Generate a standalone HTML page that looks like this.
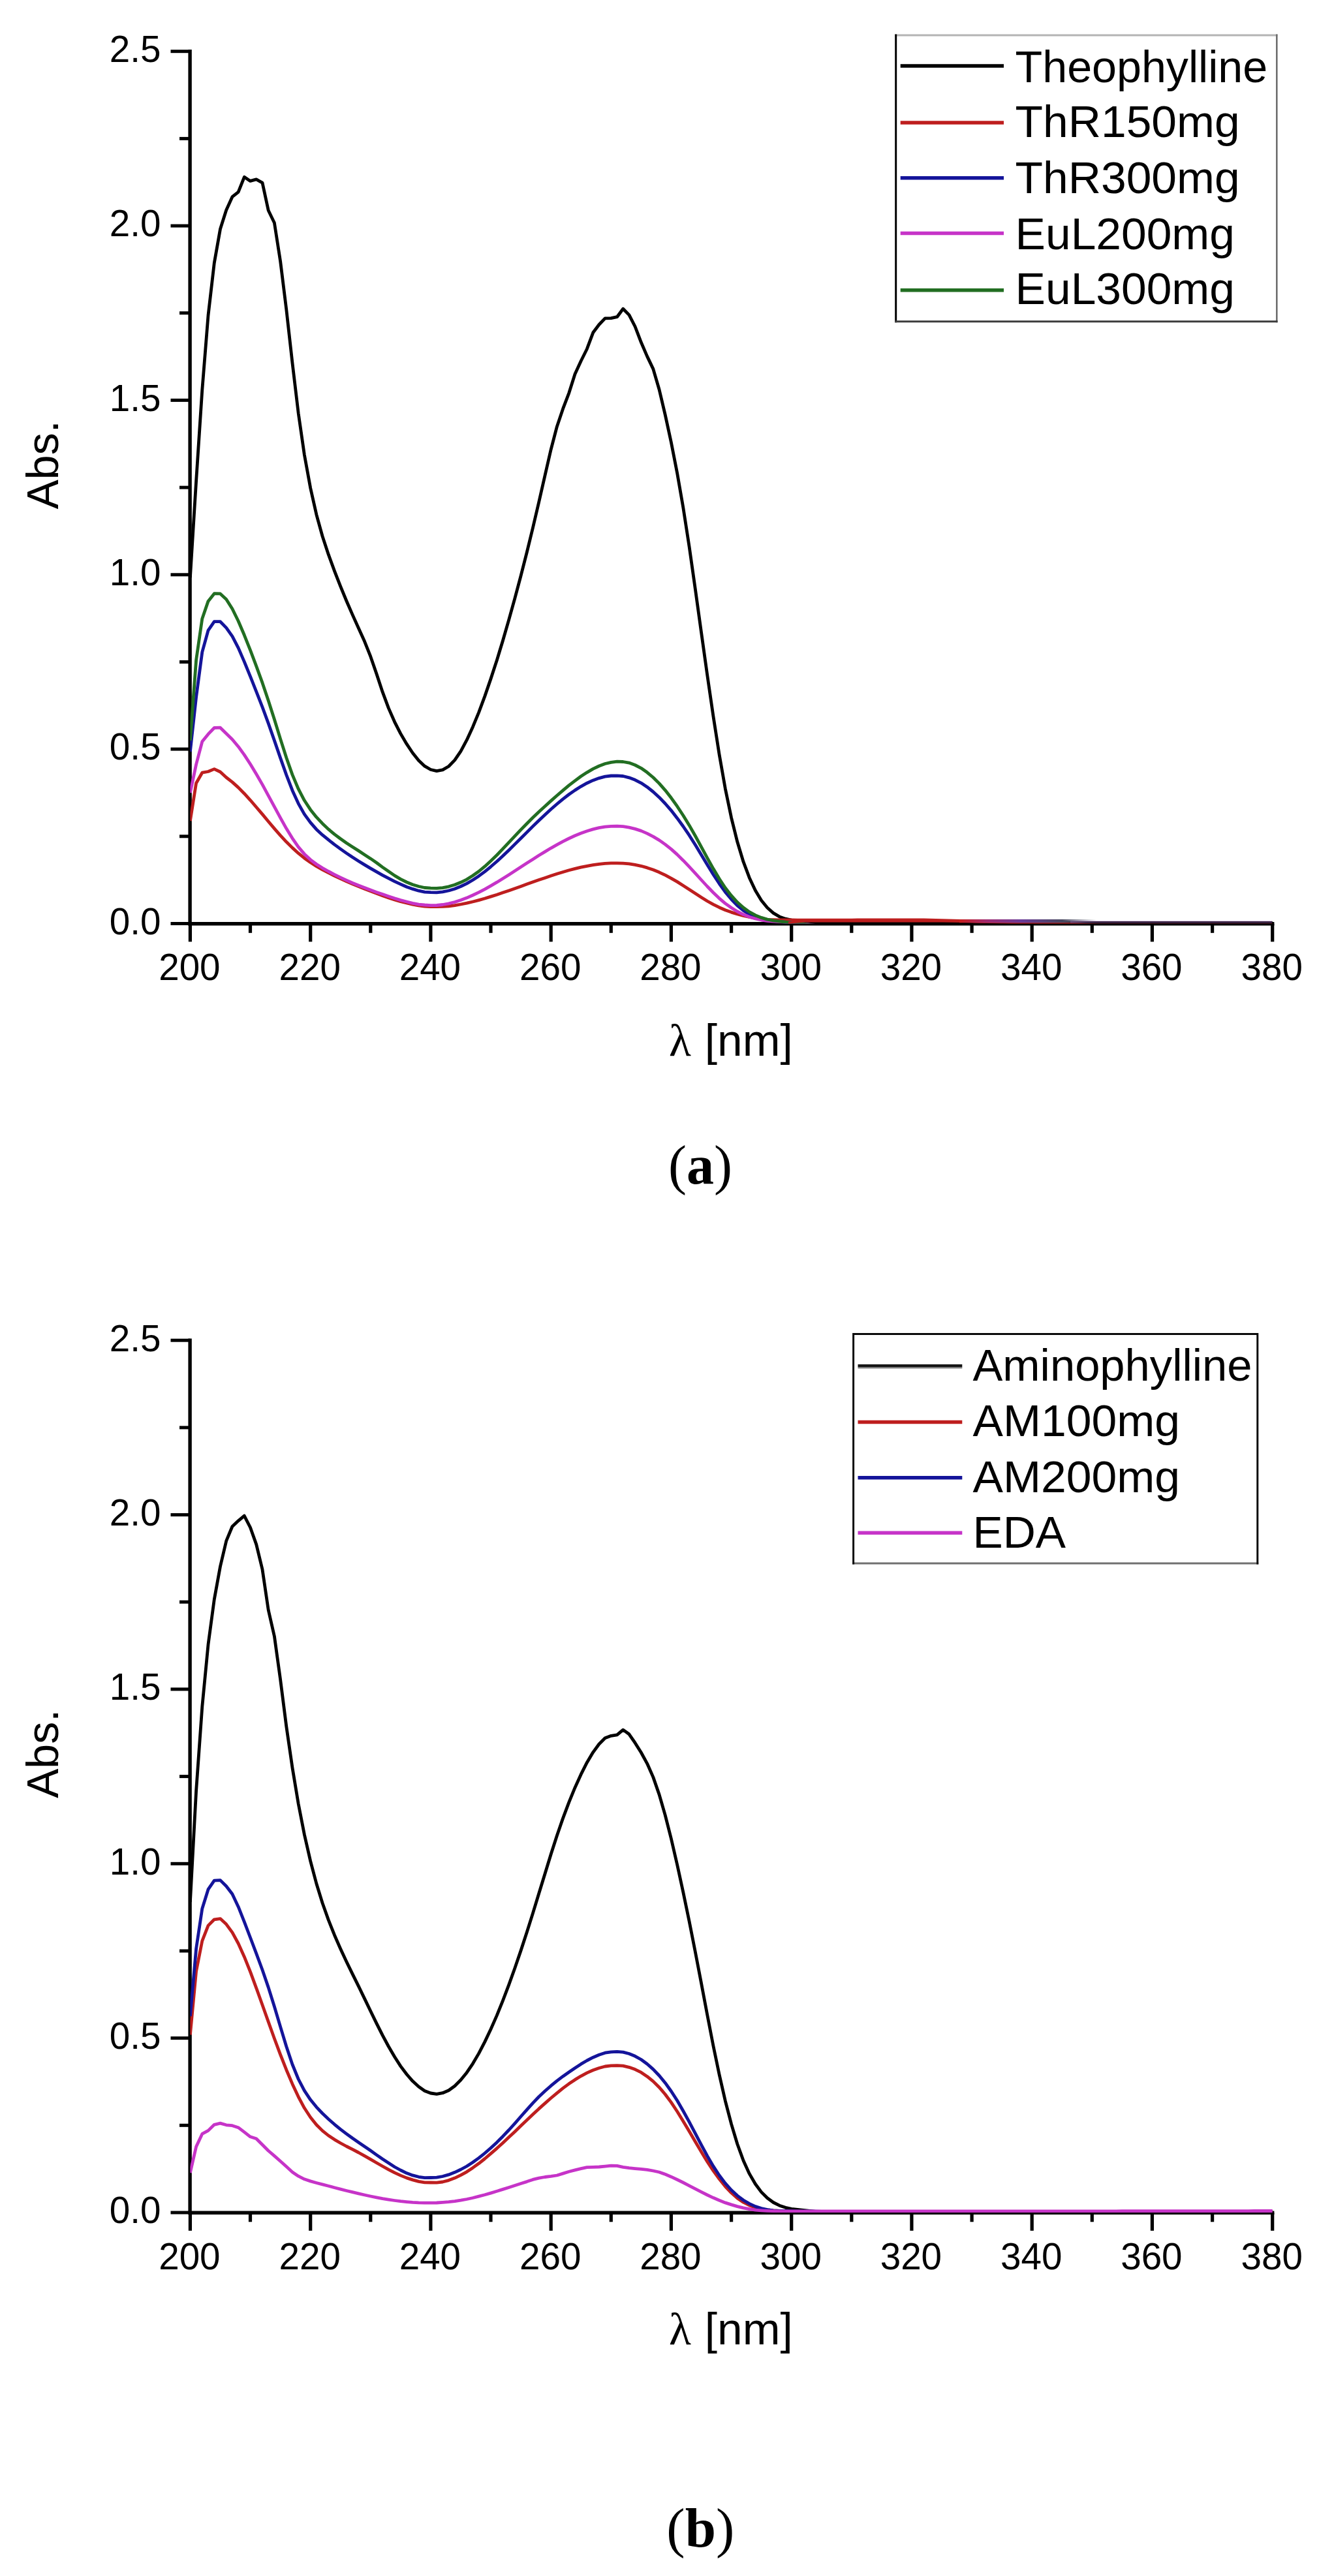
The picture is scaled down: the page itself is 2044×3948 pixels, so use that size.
<!DOCTYPE html>
<html lang="en">
<head>
<meta charset="utf-8">
<title>UV absorption spectra</title>
<style>
html,body{margin:0;padding:0;background:#fff;}
body{width:2044px;height:3948px;overflow:hidden;}
svg{display:block;}
text{white-space:pre;}
</style>
</head>
<body>

<svg width="2044" height="3948" viewBox="0 0 2044 3948">
<rect x="0" y="0" width="2044" height="3948" fill="#fff"/>
<defs>
<clipPath id="clipA"><rect x="291.4" y="60" width="1661.3" height="1355.5"/></clipPath>
<clipPath id="clipB"><rect x="291.4" y="2035.5" width="1661.3" height="1355.5"/></clipPath>
<linearGradient id="hazeA" gradientUnits="userSpaceOnUse" x1="1470" y1="0" x2="1680" y2="0"><stop offset="0" stop-color="#c81e1e"/><stop offset="0.2" stop-color="#a02a70"/><stop offset="0.45" stop-color="#6a3a98"/><stop offset="0.75" stop-color="#46465e"/><stop offset="1" stop-color="#46465e" stop-opacity="0"/></linearGradient>
</defs>
<!-- chart a: axes -->
<g stroke="#000" stroke-width="5.4" stroke-linecap="butt" fill="none">
<path d="M291.1 76 V1418.5"/>
<path d="M288.4 1415.8 H1952.4"/>
<path d="M261.5 1415.5 H291.4" stroke-width="5"/>
<path d="M275 1281.8 H291.4" stroke-width="5"/>
<path d="M261.5 1148.1 H291.4" stroke-width="5"/>
<path d="M275 1014.5 H291.4" stroke-width="5"/>
<path d="M261.5 880.8 H291.4" stroke-width="5"/>
<path d="M275 747.1 H291.4" stroke-width="5"/>
<path d="M261.5 613.4 H291.4" stroke-width="5"/>
<path d="M275 479.7 H291.4" stroke-width="5"/>
<path d="M261.5 346.1 H291.4" stroke-width="5"/>
<path d="M275 212.4 H291.4" stroke-width="5"/>
<path d="M261.5 78.7 H291.4" stroke-width="5"/>
<path d="M291.4 1415.5 V1443.3" stroke-width="5.2"/>
<path d="M383.5 1415.5 V1429.8" stroke-width="5.2"/>
<path d="M475.7 1415.5 V1443.3" stroke-width="5.2"/>
<path d="M567.8 1415.5 V1429.8" stroke-width="5.2"/>
<path d="M659.9 1415.5 V1443.3" stroke-width="5.2"/>
<path d="M752 1415.5 V1429.8" stroke-width="5.2"/>
<path d="M844.2 1415.5 V1443.3" stroke-width="5.2"/>
<path d="M936.3 1415.5 V1429.8" stroke-width="5.2"/>
<path d="M1028.4 1415.5 V1443.3" stroke-width="5.2"/>
<path d="M1120.6 1415.5 V1429.8" stroke-width="5.2"/>
<path d="M1212.7 1415.5 V1443.3" stroke-width="5.2"/>
<path d="M1304.8 1415.5 V1429.8" stroke-width="5.2"/>
<path d="M1396.9 1415.5 V1443.3" stroke-width="5.2"/>
<path d="M1489.1 1415.5 V1429.8" stroke-width="5.2"/>
<path d="M1581.2 1415.5 V1443.3" stroke-width="5.2"/>
<path d="M1673.3 1415.5 V1429.8" stroke-width="5.2"/>
<path d="M1765.4 1415.5 V1443.3" stroke-width="5.2"/>
<path d="M1857.6 1415.5 V1429.8" stroke-width="5.2"/>
<path d="M1949.7 1415.5 V1443.3" stroke-width="5.2"/>
</g>
<g font-family="'Liberation Sans', Arial, Helvetica, sans-serif" font-size="56.6" fill="#000">
<text x="246.5" y="1431.8" text-anchor="end">0.0</text>
<text x="246.5" y="1164.4" text-anchor="end">0.5</text>
<text x="246.5" y="897.1" text-anchor="end">1.0</text>
<text x="246.5" y="629.7" text-anchor="end">1.5</text>
<text x="246.5" y="362.4" text-anchor="end">2.0</text>
<text x="246.5" y="95" text-anchor="end">2.5</text>
<text x="290.4" y="1502" text-anchor="middle">200</text>
<text x="474.7" y="1502" text-anchor="middle">220</text>
<text x="658.9" y="1502" text-anchor="middle">240</text>
<text x="843.2" y="1502" text-anchor="middle">260</text>
<text x="1027.4" y="1502" text-anchor="middle">280</text>
<text x="1211.7" y="1502" text-anchor="middle">300</text>
<text x="1395.9" y="1502" text-anchor="middle">320</text>
<text x="1580.2" y="1502" text-anchor="middle">340</text>
<text x="1764.4" y="1502" text-anchor="middle">360</text>
<text x="1948.7" y="1502" text-anchor="middle">380</text>
</g>
<text transform="translate(88.8 712.5) rotate(-90)" font-family="'Liberation Sans', Arial, Helvetica, sans-serif" font-size="68" text-anchor="middle" fill="#000">Abs.</text>
<text x="1079.8" y="1617.8" font-family="'Liberation Sans', Arial, Helvetica, sans-serif" font-size="68" fill="#000" textLength="135" lengthAdjust="spacingAndGlyphs">[nm]</text>
<text x="1025" y="1617.8" font-family="'Liberation Serif', 'Times New Roman', serif" font-size="70" fill="#000">λ</text>
<!-- chart a: curves -->
<g id="curves-a" clip-path="url(#clipA)">
<path d="M291.4 885L300.6 737.3 309.8 597.5 319 483.4 328.3 403 337.5 351 346.7 322.1 355.9 301.7 365.1 294.4 374.3 271.3 383.5 277.4 392.7 274.9 402 280.1 411.2 322.5 420.4 341.5 429.6 400.4 438.8 474.5 448 556.6 457.2 633.5 466.4 697.1 475.7 748 484.9 788.8 494.1 822 503.3 849.9 512.5 875.1 521.7 898.7 530.9 921 540.1 942.1 549.4 962.7 558.6 983.1 567.8 1006.2 577 1032.9 586.2 1060.7 595.4 1085.4 604.6 1106.3 613.8 1124.4 623.1 1140.2 632.3 1154 641.5 1165.5 650.7 1174.2 659.9 1179.5 669.1 1181.6 678.3 1179.8 687.5 1174.5 696.8 1164.9 706 1151.3 715.2 1134.2 724.4 1114.2 733.6 1091.8 742.8 1067.1 752 1040.4 761.3 1011.9 770.5 981.7 779.7 949.9 788.9 916.8 798.1 882.3 807.3 846.3 816.5 808.7 825.7 769.5 835 728.7 844.2 688.8 853.4 653.7 862.6 626.4 871.8 602.3 881 573.2 890.2 553.2 899.4 534.7 908.7 509.8 917.9 497.5 927.1 487.9 936.3 487.7 945.5 485.7 954.7 473.3 963.9 482.6 973.1 500.5 982.4 524.8 991.6 546.1 1000.8 565.4 1010 596.7 1019.2 635.6 1028.4 678.1 1037.6 725 1046.8 777.9 1056.1 837.9 1065.3 902.7 1074.5 968.9 1083.7 1034.5 1092.9 1097.6 1102.1 1156.3 1111.3 1208.7 1120.6 1253.3 1129.8 1290.3 1139 1320.7 1148.2 1345.2 1157.4 1364.8 1166.6 1379.9 1175.8 1391.2 1185 1399.4 1194.3 1404.9 1203.5 1408.2 1212.7 1410.1 1221.9 1411.1 1231.1 1411.9 1240.3 1412.7 1249.5 1413.3 1258.7 1413.6 1268 1413.7 1277.2 1413.7 1286.4 1413.8 1295.6 1413.8 1304.8 1413.8 1314 1413.9 1323.2 1413.9 1332.4 1413.9 1341.7 1413.9 1350.9 1413.9 1360.1 1413.9 1369.3 1414 1378.5 1414 1387.7 1414 1396.9 1414 1406.1 1414 1415.4 1414 1424.6 1414 1433.8 1414 1443 1414.1 1452.2 1414.1 1461.4 1414.1 1470.6 1414.1 1479.8 1414.1 1489.1 1414.1 1498.3 1414.1 1507.5 1414.1 1516.7 1414.2 1525.9 1414.2 1535.1 1414.2 1544.3 1414.2 1553.6 1414.2 1562.8 1414.2 1572 1414.2 1581.2 1414.2 1590.4 1414.3 1599.6 1414.3 1608.8 1414.3 1618 1414.3 1627.3 1414.3 1636.5 1414.3 1645.7 1414.3 1654.9 1414.3 1664.1 1414.3 1673.3 1414.3 1682.5 1414.4 1691.7 1414.4 1701 1414.4 1710.2 1414.4 1719.4 1414.4 1728.6 1414.4 1737.8 1414.4 1747 1414.4 1756.2 1414.4 1765.4 1414.4 1774.7 1414.4 1783.9 1414.4 1793.1 1414.4 1802.3 1414.5 1811.5 1414.5 1820.7 1414.5 1829.9 1414.5 1839.1 1414.5 1848.4 1414.5 1857.6 1414.5 1866.8 1414.5 1876 1414.5 1885.2 1414.5 1894.4 1414.5 1903.6 1414.5 1912.8 1414.5 1922.1 1414.5 1931.3 1414.5 1940.5 1414.5 1949.7 1414.5" fill="none" stroke="#000000" stroke-width="4.8" stroke-linejoin="round" stroke-linecap="butt"/>
<path d="M291.4 1258L300.6 1200.2 309.8 1184.2 319 1182.5 328.3 1178.6 337.5 1183 346.7 1191.5 355.9 1198.6 365.1 1206.9 374.3 1216.2 383.5 1226.3 392.7 1237 402 1247.9 411.2 1259 420.4 1269.9 429.6 1280.4 438.8 1290.3 448 1299.4 457.2 1307.7 466.4 1315.2 475.7 1321.8 484.9 1327.6 494.1 1332.8 503.3 1337.7 512.5 1342.3 521.7 1346.6 530.9 1350.8 540.1 1354.7 549.4 1358.5 558.6 1362.2 567.8 1365.8 577 1369.3 586.2 1372.7 595.4 1375.9 604.6 1378.9 613.8 1381.7 623.1 1384 632.3 1386.1 641.5 1387.8 650.7 1389 659.9 1389.7 669.1 1389.6 678.3 1389.4 687.5 1388.9 696.8 1387.7 706 1386 715.2 1384.2 724.4 1382 733.6 1379.6 742.8 1377 752 1374.1 761.3 1371.2 770.5 1368.1 779.7 1364.9 788.9 1361.7 798.1 1358.4 807.3 1355.1 816.5 1351.8 825.7 1348.6 835 1345.4 844.2 1342.3 853.4 1339.3 862.6 1336.5 871.8 1333.8 881 1331.4 890.2 1329.2 899.4 1327.3 908.7 1325.6 917.9 1324.3 927.1 1323.3 936.3 1322.9 945.5 1322.8 954.7 1323.1 963.9 1323.9 973.1 1325.4 982.4 1327.3 991.6 1329.9 1000.8 1333.1 1010 1336.8 1019.2 1341.2 1028.4 1346.1 1037.6 1351.4 1046.8 1357.2 1056.1 1363.3 1065.3 1369.3 1074.5 1375.3 1083.7 1381 1092.9 1386.1 1102.1 1390.7 1111.3 1394.7 1120.6 1398.1 1129.8 1401 1139 1403.5 1148.2 1405.5 1157.4 1407.1 1166.6 1408.4 1175.8 1409.5 1185 1409.7 1194.3 1409.9 1203.5 1410 1212.7 1410 1221.9 1410.1 1231.1 1410.1 1240.3 1410.1 1249.5 1410.1 1258.7 1410.1 1268 1410.1 1277.2 1410.1 1286.4 1410.1 1295.6 1410.1 1304.8 1410.1 1314 1410 1323.2 1410 1332.4 1410 1341.7 1410 1350.9 1409.9 1360.1 1409.9 1369.3 1409.9 1378.5 1409.9 1387.7 1409.9 1396.9 1409.9 1406.1 1409.9 1415.4 1410 1424.6 1410.1 1433.8 1410.3 1443 1410.6 1452.2 1410.8 1461.4 1411.1 1470.6 1411.3 1479.8 1411.5 1489.1 1411.8 1498.3 1412 1507.5 1412.3 1516.7 1412.6 1525.9 1412.8 1535.1 1413.1 1544.3 1413.4 1553.6 1413.7 1562.8 1414 1572 1414.2 1581.2 1414.5 1590.4 1414.8 1599.6 1415.1 1608.8 1415.4 1618 1415.7 1627.3 1416 1636.5 1416.4 1645.7 1416.7 1654.9 1417 1664.1 1417.3 1673.3 1417.6 1682.5 1417.8 1691.7 1417.9 1701 1417.9 1710.2 1417.9 1719.4 1417.9 1728.6 1418 1737.8 1418 1747 1418 1756.2 1418 1765.4 1418 1774.7 1418 1783.9 1418 1793.1 1418 1802.3 1418 1811.5 1418 1820.7 1418 1829.9 1418 1839.1 1418 1848.4 1418 1857.6 1418 1866.8 1418 1876 1418 1885.2 1418 1894.4 1418 1903.6 1418 1912.8 1418 1922.1 1418 1931.3 1418 1940.5 1418 1949.7 1418" fill="none" stroke="#be1e1e" stroke-width="4.8" stroke-linejoin="round" stroke-linecap="butt"/>
<path d="M291.4 1152L300.6 1068.4 309.8 999.4 319 966.1 328.3 952.7 337.5 952.7 346.7 962.1 355.9 975.1 365.1 992.9 374.3 1014.1 383.5 1036.7 392.7 1059.8 402 1083.7 411.2 1108.7 420.4 1134.9 429.6 1161.6 438.8 1187.6 448 1211.4 457.2 1231.6 466.4 1247.9 475.7 1260.7 484.9 1271.2 494.1 1279.7 503.3 1287.2 512.5 1294.4 521.7 1301.1 530.9 1307.6 540.1 1313.8 549.4 1319.7 558.6 1325.4 567.8 1330.9 577 1336.2 586.2 1341.3 595.4 1346.2 604.6 1350.9 613.8 1355.2 623.1 1359.3 632.3 1362.4 641.5 1365.2 650.7 1367.1 659.9 1367.6 669.1 1367.8 678.3 1366.9 687.5 1365 696.8 1362.2 706 1358.5 715.2 1354.1 724.4 1348.7 733.6 1342.7 742.8 1335.8 752 1328.3 761.3 1320.3 770.5 1311.8 779.7 1302.9 788.9 1293.9 798.1 1284.7 807.3 1275.6 816.5 1266.4 825.7 1257.5 835 1248.8 844.2 1240.3 853.4 1232.3 862.6 1224.6 871.8 1217.5 881 1211.1 890.2 1205.3 899.4 1200.2 908.7 1195.9 917.9 1192.6 927.1 1190.1 936.3 1189 945.5 1188.8 954.7 1189.5 963.9 1191.8 973.1 1195.3 982.4 1200.1 991.6 1206.2 1000.8 1213.5 1010 1221.9 1019.2 1231.5 1028.4 1242.1 1037.6 1253.9 1046.8 1266.5 1056.1 1280.2 1065.3 1294.8 1074.5 1310 1083.7 1325.3 1092.9 1340.2 1102.1 1354.3 1111.3 1367.1 1120.6 1378.3 1129.8 1387.9 1139 1395.4 1148.2 1401.2 1157.4 1405.3 1166.6 1408.1 1175.8 1410 1185 1411.3 1194.3 1412.3 1203.5 1413.3 1212.7 1414.3 1221.9 1415.6 1231.1 1417.1 1240.3 1418.4 1249.5 1419 1258.7 1419 1268 1419 1277.2 1419 1286.4 1419 1295.6 1419 1304.8 1419 1314 1419 1323.2 1419 1332.4 1419 1341.7 1419 1350.9 1419 1360.1 1419 1369.3 1419 1378.5 1419 1387.7 1419 1396.9 1419 1406.1 1419 1415.4 1419 1424.6 1419 1433.8 1419 1443 1419 1452.2 1419 1461.4 1419 1470.6 1419 1479.8 1419 1489.1 1419 1498.3 1419 1507.5 1419 1516.7 1419 1525.9 1419 1535.1 1419 1544.3 1419 1553.6 1419 1562.8 1419 1572 1419 1581.2 1419 1590.4 1419 1599.6 1419 1608.8 1419 1618 1419 1627.3 1419 1636.5 1419 1645.7 1419 1654.9 1419 1664.1 1419 1673.3 1419 1682.5 1419 1691.7 1419 1701 1419 1710.2 1419 1719.4 1419 1728.6 1419 1737.8 1419 1747 1419 1756.2 1419 1765.4 1419 1774.7 1419 1783.9 1419 1793.1 1419 1802.3 1419 1811.5 1419 1820.7 1419 1829.9 1419 1839.1 1419 1848.4 1419 1857.6 1419 1866.8 1419 1876 1419 1885.2 1419 1894.4 1419 1903.6 1419 1912.8 1419 1922.1 1419 1931.3 1419 1940.5 1419 1949.7 1419" fill="none" stroke="#14149a" stroke-width="4.8" stroke-linejoin="round" stroke-linecap="butt"/>
<path d="M291.4 1215L300.6 1171.5 309.8 1136.6 319 1125.2 328.3 1115.5 337.5 1115.2 346.7 1124.3 355.9 1133.2 365.1 1144.2 374.3 1156.9 383.5 1171 392.7 1186.3 402 1202.4 411.2 1219.3 420.4 1236.4 429.6 1253.4 438.8 1269.8 448 1284.8 457.2 1298.1 466.4 1308.9 475.7 1317.6 484.9 1324.5 494.1 1330.3 503.3 1335.5 512.5 1340.3 521.7 1344.8 530.9 1349.1 540.1 1353.2 549.4 1357 558.6 1360.6 567.8 1364.1 577 1367.4 586.2 1370.6 595.4 1373.7 604.6 1376.8 613.8 1379.6 623.1 1382 632.3 1384.3 641.5 1386.1 650.7 1387 659.9 1387.6 669.1 1387.5 678.3 1386.5 687.5 1384.9 696.8 1382.5 706 1379.5 715.2 1376.1 724.4 1372 733.6 1367.6 742.8 1362.8 752 1357.6 761.3 1352.2 770.5 1346.5 779.7 1340.7 788.9 1334.8 798.1 1328.8 807.3 1322.8 816.5 1316.9 825.7 1311 835 1305.4 844.2 1299.8 853.4 1294.6 862.6 1289.6 871.8 1285 881 1280.8 890.2 1277 899.4 1273.7 908.7 1270.9 917.9 1268.7 927.1 1267.1 936.3 1266.4 945.5 1266.2 954.7 1266.7 963.9 1268.2 973.1 1270.4 982.4 1273.4 991.6 1277.4 1000.8 1282.1 1010 1287.6 1019.2 1294.1 1028.4 1301.4 1037.6 1309.6 1046.8 1318.7 1056.1 1328.4 1065.3 1338.4 1074.5 1348.5 1083.7 1358.5 1092.9 1368 1102.1 1376.8 1111.3 1384.6 1120.6 1391.3 1129.8 1397 1139 1401.6 1148.2 1405.3 1157.4 1408 1166.6 1410 1175.8 1411.3 1185 1412.2 1194.3 1412.8 1203.5 1413.5 1212.7 1414.2 1221.9 1415 1231.1 1415.9 1240.3 1417.2 1249.5 1418.4 1258.7 1419 1268 1419.1 1277.2 1419.1 1286.4 1419.1 1295.6 1419.1 1304.8 1419.1 1314 1419.1 1323.2 1419.1 1332.4 1419.1 1341.7 1419.1 1350.9 1419.1 1360.1 1419.1 1369.3 1419.1 1378.5 1419.1 1387.7 1419.1 1396.9 1419.1 1406.1 1419.1 1415.4 1419.1 1424.6 1419.1 1433.8 1419.1 1443 1419.1 1452.2 1419.1 1461.4 1419.1 1470.6 1419.1 1479.8 1419.1 1489.1 1419.1 1498.3 1419.1 1507.5 1419.1 1516.7 1419.1 1525.9 1419 1535.1 1419 1544.3 1419 1553.6 1419 1562.8 1419 1572 1419 1581.2 1419 1590.4 1419 1599.6 1419 1608.8 1419 1618 1419 1627.3 1419 1636.5 1419 1645.7 1419 1654.9 1419 1664.1 1419 1673.3 1419 1682.5 1419 1691.7 1419 1701 1419 1710.2 1419 1719.4 1419 1728.6 1419 1737.8 1419 1747 1419 1756.2 1419 1765.4 1419 1774.7 1419 1783.9 1419 1793.1 1419 1802.3 1419 1811.5 1419 1820.7 1419 1829.9 1419 1839.1 1419 1848.4 1419 1857.6 1419 1866.8 1419 1876 1419 1885.2 1419 1894.4 1419 1903.6 1419 1912.8 1419 1922.1 1419 1931.3 1419 1940.5 1419 1949.7 1419" fill="none" stroke="#c634c8" stroke-width="4.8" stroke-linejoin="round" stroke-linecap="butt"/>
<path d="M291.4 1135L300.6 1011.5 309.8 948.2 319 921.4 328.3 909.7 337.5 909.9 346.7 918.5 355.9 933 365.1 951.7 374.3 973.3 383.5 996.4 392.7 1020.8 402 1046.4 411.2 1073.7 420.4 1102.6 429.6 1132.4 438.8 1161.2 448 1187.4 457.2 1209.2 466.4 1226.8 475.7 1240.9 484.9 1252.4 494.1 1262.2 503.3 1270.9 512.5 1278.6 521.7 1285.5 530.9 1292 540.1 1298 549.4 1303.9 558.6 1309.9 567.8 1315.9 577 1322.3 586.2 1329.1 595.4 1335.5 604.6 1341.9 613.8 1347.4 623.1 1352 632.3 1355.8 641.5 1358.5 650.7 1360.5 659.9 1361.1 669.1 1361.4 678.3 1360.6 687.5 1358.8 696.8 1356 706 1352.3 715.2 1347.8 724.4 1342 733.6 1335.5 742.8 1327.9 752 1319.4 761.3 1310.5 770.5 1300.9 779.7 1291.2 788.9 1281.4 798.1 1271.6 807.3 1262.2 816.5 1253 825.7 1244.2 835 1235.7 844.2 1227.4 853.4 1219.3 862.6 1211.4 871.8 1203.7 881 1196.6 890.2 1189.8 899.4 1183.8 908.7 1178.4 917.9 1174 927.1 1170.5 936.3 1168.3 945.5 1167.1 954.7 1167.5 963.9 1169.1 973.1 1172.5 982.4 1177.3 991.6 1183.8 1000.8 1191.5 1010 1200.6 1019.2 1211.1 1028.4 1222.8 1037.6 1235.7 1046.8 1249.8 1056.1 1264.9 1065.3 1281 1074.5 1297.8 1083.7 1314.8 1092.9 1331.3 1102.1 1346.8 1111.3 1360.7 1120.6 1372.7 1129.8 1382.8 1139 1391 1148.2 1397.6 1157.4 1402.7 1166.6 1406.4 1175.8 1409.1 1185 1410.9 1194.3 1412.2 1203.5 1413.2 1212.7 1414.2 1221.9 1415.2 1231.1 1416.2 1240.3 1417.5 1249.5 1418.6 1258.7 1419.2 1268 1419.2 1277.2 1419.2 1286.4 1419.2 1295.6 1419.2 1304.8 1419.2 1314 1419.2 1323.2 1419.2 1332.4 1419.2 1341.7 1419.2 1350.9 1419.2 1360.1 1419.2 1369.3 1419.2 1378.5 1419.2 1387.7 1419.2 1396.9 1419.2 1406.1 1419.2 1415.4 1419.2 1424.6 1419.2 1433.8 1419.2 1443 1419.2 1452.2 1419.2 1461.4 1419.2 1470.6 1419.2 1479.8 1419.2 1489.1 1419.2 1498.3 1419.2 1507.5 1419.2 1516.7 1419.2 1525.9 1419.2 1535.1 1419.2 1544.3 1419.2 1553.6 1419.2 1562.8 1419.2 1572 1419.2 1581.2 1419.2 1590.4 1419.2 1599.6 1419.2 1608.8 1419.2 1618 1419.2 1627.3 1419.2 1636.5 1419.2 1645.7 1419.2 1654.9 1419.2 1664.1 1419.1 1673.3 1419.1 1682.5 1419.1 1691.7 1419.1 1701 1419.1 1710.2 1419.1 1719.4 1419.1 1728.6 1419.1 1737.8 1419.1 1747 1419.1 1756.2 1419.1 1765.4 1419.1 1774.7 1419.1 1783.9 1419.1 1793.1 1419.1 1802.3 1419.1 1811.5 1419.1 1820.7 1419.1 1829.9 1419.1 1839.1 1419.1 1848.4 1419.1 1857.6 1419.1 1866.8 1419.1 1876 1419.1 1885.2 1419 1894.4 1419 1903.6 1419 1912.8 1419 1922.1 1419 1931.3 1419 1940.5 1419 1949.7 1419" fill="none" stroke="#226e22" stroke-width="4.8" stroke-linejoin="round" stroke-linecap="butt"/>
</g>
<!-- chart a: overlapping curve tails lying on the x axis -->
<path d="M1208 1414.2 L1232 1412 H1470 L1510 1413.2" fill="none" stroke="#be1e1e" stroke-width="3.2"/>
<path d="M1470 1411.6 H1680" fill="none" stroke="url(#hazeA)" stroke-width="5.2"/>
<path d="M1640 1413 H1949" fill="none" stroke="#a868c0" stroke-width="4.2" stroke-opacity="0.34"/>
<!-- chart a: legend -->
<rect x="1372.7" y="53.9" width="583.6" height="438.9" fill="#fff" stroke="none"/>
<path d="M1371.2 53.9 H1957.5" stroke="#b4b4b4" stroke-width="3" fill="none"/>
<path d="M1956.3 52.4 V494.3" stroke="#6e6e6e" stroke-width="2.6" fill="none"/>
<path d="M1372.7 52.4 V494.3" stroke="#000" stroke-width="3" fill="none"/>
<path d="M1371.2 492.8 H1957.6" stroke="#3c3c3c" stroke-width="3" fill="none"/>
<g font-family="'Liberation Sans', Arial, Helvetica, sans-serif" font-size="68" fill="#000">
<path d="M1379.7 101 H1538" stroke="#000000" stroke-width="5.5" fill="none"/>
<text x="1555.6" y="125.6" textLength="386.6" lengthAdjust="spacingAndGlyphs">Theophylline</text>
<path d="M1379.7 188.1 H1538" stroke="#be1e1e" stroke-width="5.5" fill="none"/>
<text x="1555.6" y="209.9" textLength="344" lengthAdjust="spacingAndGlyphs">ThR150mg</text>
<path d="M1379.7 272.8 H1538" stroke="#14149a" stroke-width="5.5" fill="none"/>
<text x="1555.6" y="296.4" textLength="344" lengthAdjust="spacingAndGlyphs">ThR300mg</text>
<path d="M1379.7 357.6 H1538" stroke="#c634c8" stroke-width="5.5" fill="none"/>
<text x="1555.6" y="381.8" textLength="336.4" lengthAdjust="spacingAndGlyphs">EuL200mg</text>
<path d="M1379.7 444.7 H1538" stroke="#226e22" stroke-width="5.5" fill="none"/>
<text x="1555.6" y="465.9" textLength="336.4" lengthAdjust="spacingAndGlyphs">EuL300mg</text>
</g>
<text x="1073" y="1813.5" text-anchor="middle" font-family="'Liberation Serif', 'Times New Roman', serif" font-size="84" fill="#000">(<tspan font-weight="bold">a</tspan>)</text>
<!-- chart b: axes -->
<g stroke="#000" stroke-width="5.4" stroke-linecap="butt" fill="none">
<path d="M291.1 2051.5 V3394"/>
<path d="M288.4 3391.3 H1952.4"/>
<path d="M261.5 3391 H291.4" stroke-width="5"/>
<path d="M275 3257.3 H291.4" stroke-width="5"/>
<path d="M261.5 3123.6 H291.4" stroke-width="5"/>
<path d="M275 2990 H291.4" stroke-width="5"/>
<path d="M261.5 2856.3 H291.4" stroke-width="5"/>
<path d="M275 2722.6 H291.4" stroke-width="5"/>
<path d="M261.5 2588.9 H291.4" stroke-width="5"/>
<path d="M275 2455.2 H291.4" stroke-width="5"/>
<path d="M261.5 2321.6 H291.4" stroke-width="5"/>
<path d="M275 2187.9 H291.4" stroke-width="5"/>
<path d="M261.5 2054.2 H291.4" stroke-width="5"/>
<path d="M291.4 3391 V3418.8" stroke-width="5.2"/>
<path d="M383.5 3391 V3405.3" stroke-width="5.2"/>
<path d="M475.7 3391 V3418.8" stroke-width="5.2"/>
<path d="M567.8 3391 V3405.3" stroke-width="5.2"/>
<path d="M659.9 3391 V3418.8" stroke-width="5.2"/>
<path d="M752 3391 V3405.3" stroke-width="5.2"/>
<path d="M844.2 3391 V3418.8" stroke-width="5.2"/>
<path d="M936.3 3391 V3405.3" stroke-width="5.2"/>
<path d="M1028.4 3391 V3418.8" stroke-width="5.2"/>
<path d="M1120.6 3391 V3405.3" stroke-width="5.2"/>
<path d="M1212.7 3391 V3418.8" stroke-width="5.2"/>
<path d="M1304.8 3391 V3405.3" stroke-width="5.2"/>
<path d="M1396.9 3391 V3418.8" stroke-width="5.2"/>
<path d="M1489.1 3391 V3405.3" stroke-width="5.2"/>
<path d="M1581.2 3391 V3418.8" stroke-width="5.2"/>
<path d="M1673.3 3391 V3405.3" stroke-width="5.2"/>
<path d="M1765.4 3391 V3418.8" stroke-width="5.2"/>
<path d="M1857.6 3391 V3405.3" stroke-width="5.2"/>
<path d="M1949.7 3391 V3418.8" stroke-width="5.2"/>
</g>
<g font-family="'Liberation Sans', Arial, Helvetica, sans-serif" font-size="56.6" fill="#000">
<text x="246.5" y="3407.3" text-anchor="end">0.0</text>
<text x="246.5" y="3139.9" text-anchor="end">0.5</text>
<text x="246.5" y="2872.6" text-anchor="end">1.0</text>
<text x="246.5" y="2605.2" text-anchor="end">1.5</text>
<text x="246.5" y="2337.9" text-anchor="end">2.0</text>
<text x="246.5" y="2070.5" text-anchor="end">2.5</text>
<text x="290.4" y="3477.5" text-anchor="middle">200</text>
<text x="474.7" y="3477.5" text-anchor="middle">220</text>
<text x="658.9" y="3477.5" text-anchor="middle">240</text>
<text x="843.2" y="3477.5" text-anchor="middle">260</text>
<text x="1027.4" y="3477.5" text-anchor="middle">280</text>
<text x="1211.7" y="3477.5" text-anchor="middle">300</text>
<text x="1395.9" y="3477.5" text-anchor="middle">320</text>
<text x="1580.2" y="3477.5" text-anchor="middle">340</text>
<text x="1764.4" y="3477.5" text-anchor="middle">360</text>
<text x="1948.7" y="3477.5" text-anchor="middle">380</text>
</g>
<text transform="translate(88.8 2688) rotate(-90)" font-family="'Liberation Sans', Arial, Helvetica, sans-serif" font-size="68" text-anchor="middle" fill="#000">Abs.</text>
<text x="1079.8" y="3593.3" font-family="'Liberation Sans', Arial, Helvetica, sans-serif" font-size="68" fill="#000" textLength="135" lengthAdjust="spacingAndGlyphs">[nm]</text>
<text x="1025" y="3593.3" font-family="'Liberation Serif', 'Times New Roman', serif" font-size="70" fill="#000">λ</text>
<!-- chart b: curves -->
<g id="curves-b" clip-path="url(#clipB)">
<path d="M291.4 2915L300.6 2744.6 309.8 2615.6 319 2520.4 328.3 2451.3 337.5 2400.8 346.7 2361.7 355.9 2339.5 365.1 2330.8 374.3 2323.1 383.5 2341 392.7 2366.9 402 2405.3 411.2 2467.5 420.4 2507.7 429.6 2574 438.8 2646.1 448 2709.4 457.2 2764.6 466.4 2811.8 475.7 2852.4 484.9 2887 494.1 2916.8 503.3 2942.6 512.5 2965.7 521.7 2986.7 530.9 3006.5 540.1 3025.4 549.4 3044.1 558.6 3063.1 567.8 3082.2 577 3101.1 586.2 3119.4 595.4 3136.5 604.6 3152.3 613.8 3166.6 623.1 3179 632.3 3189.6 641.5 3198.1 650.7 3204.4 659.9 3208 669.1 3209.3 678.3 3207.7 687.5 3203.8 696.8 3197 706 3187.8 715.2 3176.4 724.4 3162.8 733.6 3147.1 742.8 3129.4 752 3110 761.3 3088.9 770.5 3066.1 779.7 3041.9 788.9 3016.3 798.1 2989.4 807.3 2961.3 816.5 2932.1 825.7 2902 835 2871.7 844.2 2841.8 853.4 2813.2 862.6 2786.6 871.8 2762.1 881 2739.7 890.2 2719.4 899.4 2701.2 908.7 2685.6 917.9 2673 927.1 2663.8 936.3 2660.3 945.5 2658.9 954.7 2651.1 963.9 2657.8 973.1 2671.2 982.4 2686 991.6 2702.8 1000.8 2723.6 1010 2750.1 1019.2 2781.9 1028.4 2818 1037.6 2857.7 1046.8 2900.1 1056.1 2944.8 1065.3 2991.4 1074.5 3039.3 1083.7 3087.9 1092.9 3135.4 1102.1 3179.6 1111.3 3219.8 1120.6 3255.4 1129.8 3286 1139 3311.2 1148.2 3331.4 1157.4 3347.3 1166.6 3359.6 1175.8 3368.8 1185 3375.5 1194.3 3380.2 1203.5 3383.3 1212.7 3385.3 1221.9 3386.5 1231.1 3387.5 1240.3 3388.5 1249.5 3389.3 1258.7 3389.7 1268 3389.7 1277.2 3389.7 1286.4 3389.7 1295.6 3389.7 1304.8 3389.7 1314 3389.6 1323.2 3389.6 1332.4 3389.6 1341.7 3389.5 1350.9 3389.5 1360.1 3389.5 1369.3 3389.5 1378.5 3389.4 1387.7 3389.4 1396.9 3389.4 1406.1 3389.4 1415.4 3389.4 1424.6 3389.4 1433.8 3389.4 1443 3389.4 1452.2 3389.4 1461.4 3389.4 1470.6 3389.4 1479.8 3389.4 1489.1 3389.4 1498.3 3389.4 1507.5 3389.4 1516.7 3389.4 1525.9 3389.4 1535.1 3389.4 1544.3 3389.4 1553.6 3389.4 1562.8 3389.4 1572 3389.4 1581.2 3389.4 1590.4 3389.4 1599.6 3389.4 1608.8 3389.4 1618 3389.5 1627.3 3389.5 1636.5 3389.5 1645.7 3389.5 1654.9 3389.5 1664.1 3389.5 1673.3 3389.5 1682.5 3389.5 1691.7 3389.5 1701 3389.5 1710.2 3389.5 1719.4 3389.5 1728.6 3389.5 1737.8 3389.6 1747 3389.6 1756.2 3389.6 1765.4 3389.6 1774.7 3389.6 1783.9 3389.6 1793.1 3389.6 1802.3 3389.6 1811.5 3389.7 1820.7 3389.7 1829.9 3389.7 1839.1 3389.7 1848.4 3389.7 1857.6 3389.8 1866.8 3389.8 1876 3389.8 1885.2 3389.8 1894.4 3389.8 1903.6 3389.9 1912.8 3389.9 1922.1 3389.9 1931.3 3389.9 1940.5 3390 1949.7 3390" fill="none" stroke="#000000" stroke-width="4.8" stroke-linejoin="round" stroke-linecap="butt"/>
<path d="M291.4 3118.6L300.6 3021.3 309.8 2974.6 319 2951.1 328.3 2941.8 337.5 2940.6 346.7 2949.1 355.9 2961.6 365.1 2978.5 374.3 2998.9 383.5 3021.9 392.7 3046.8 402 3072.7 411.2 3098.6 420.4 3124.2 429.6 3148.8 438.8 3172.2 448 3193.9 457.2 3213.6 466.4 3230.8 475.7 3245 484.9 3256.5 494.1 3265.6 503.3 3273 512.5 3279.1 521.7 3284.5 530.9 3289.5 540.1 3294.2 549.4 3299 558.6 3304.1 567.8 3309.3 577 3314.7 586.2 3320 595.4 3325.1 604.6 3329.9 613.8 3334.1 623.1 3337.9 632.3 3340.9 641.5 3343.4 650.7 3344.9 659.9 3345 669.1 3345.1 678.3 3344 687.5 3341.6 696.8 3338.1 706 3333.7 715.2 3328.6 724.4 3322.4 733.6 3315.8 742.8 3308.5 752 3300.7 761.3 3292.6 770.5 3284.2 779.7 3275.6 788.9 3266.9 798.1 3258 807.3 3249.3 816.5 3240.5 825.7 3231.9 835 3223.6 844.2 3215.5 853.4 3207.8 862.6 3200.4 871.8 3193.6 881 3187.4 890.2 3181.8 899.4 3176.9 908.7 3172.7 917.9 3169.5 927.1 3167 936.3 3165.9 945.5 3165.6 954.7 3166.2 963.9 3168.3 973.1 3171.6 982.4 3176.2 991.6 3182.4 1000.8 3189.9 1010 3199 1019.2 3209.7 1028.4 3222.1 1037.6 3236 1046.8 3250.9 1056.1 3266.5 1065.3 3282.3 1074.5 3297.9 1083.7 3312.9 1092.9 3326.9 1102.1 3339.6 1111.3 3351 1120.6 3360.8 1129.8 3368.9 1139 3375.2 1148.2 3379.9 1157.4 3383.3 1166.6 3385.5 1175.8 3386.9 1185 3387.8 1194.3 3388.4 1203.5 3389 1212.7 3389.5 1221.9 3390 1231.1 3390.5 1240.3 3391 1249.5 3391.6 1258.7 3392.2 1268 3392.8 1277.2 3393.3 1286.4 3393.7 1295.6 3393.9 1304.8 3393.9 1314 3393.9 1323.2 3393.9 1332.4 3393.9 1341.7 3393.9 1350.9 3393.9 1360.1 3393.9 1369.3 3393.9 1378.5 3393.9 1387.7 3393.9 1396.9 3393.9 1406.1 3393.9 1415.4 3393.9 1424.6 3393.9 1433.8 3393.9 1443 3394 1452.2 3394 1461.4 3394 1470.6 3394 1479.8 3394 1489.1 3394 1498.3 3394 1507.5 3394 1516.7 3394 1525.9 3394 1535.1 3394 1544.3 3394 1553.6 3394 1562.8 3394 1572 3394 1581.2 3394 1590.4 3394 1599.6 3394 1608.8 3394 1618 3394 1627.3 3394 1636.5 3394 1645.7 3394 1654.9 3394 1664.1 3394 1673.3 3394 1682.5 3394 1691.7 3394 1701 3394 1710.2 3394 1719.4 3394 1728.6 3394 1737.8 3394 1747 3394 1756.2 3394 1765.4 3394 1774.7 3394 1783.9 3394 1793.1 3394 1802.3 3394 1811.5 3394 1820.7 3394 1829.9 3394 1839.1 3394 1848.4 3394 1857.6 3394 1866.8 3394 1876 3394 1885.2 3394 1894.4 3394 1903.6 3394 1912.8 3394 1922.1 3394 1931.3 3394 1940.5 3394 1949.7 3394" fill="none" stroke="#be1e1e" stroke-width="4.8" stroke-linejoin="round" stroke-linecap="butt"/>
<path d="M291.4 3090L300.6 2986.5 309.8 2925.2 319 2895.7 328.3 2882.1 337.5 2881.6 346.7 2890.7 355.9 2902.8 365.1 2922.2 374.3 2945.3 383.5 2969.5 392.7 2993.9 402 3019 411.2 3045.9 420.4 3075.2 429.6 3106.1 438.8 3136.5 448 3164 457.2 3186.5 466.4 3204.2 475.7 3218.1 484.9 3229.3 494.1 3239 503.3 3247.7 512.5 3255.8 521.7 3263.3 530.9 3270.3 540.1 3277 549.4 3283.4 558.6 3289.8 567.8 3296.1 577 3302.6 586.2 3309 595.4 3315.1 604.6 3321 613.8 3326 623.1 3330.6 632.3 3333.9 641.5 3336.3 650.7 3337.7 659.9 3337.5 669.1 3337.1 678.3 3335.5 687.5 3332.9 696.8 3329.3 706 3325 715.2 3320 724.4 3314 733.6 3307.4 742.8 3300 752 3292 761.3 3283.4 770.5 3274.2 779.7 3264.5 788.9 3254.3 798.1 3243.7 807.3 3233.4 816.5 3223.2 825.7 3213.5 835 3204.8 844.2 3196.7 853.4 3189.1 862.6 3182.2 871.8 3175.7 881 3169.4 890.2 3163.4 899.4 3158 908.7 3153.2 917.9 3149.2 927.1 3146.2 936.3 3144.8 945.5 3144.4 954.7 3145.1 963.9 3147.5 973.1 3151.3 982.4 3156.5 991.6 3163.2 1000.8 3171.4 1010 3181 1019.2 3192.2 1028.4 3205 1037.6 3219.3 1046.8 3235.2 1056.1 3252.1 1065.3 3269.7 1074.5 3287.1 1083.7 3304.1 1092.9 3319.9 1102.1 3334 1111.3 3346.2 1120.6 3356.5 1129.8 3365.1 1139 3372 1148.2 3377.4 1157.4 3381.6 1166.6 3384.5 1175.8 3386.6 1185 3387.9 1194.3 3388.4 1203.5 3388.5 1212.7 3388.6 1221.9 3388.8 1231.1 3388.9 1240.3 3389 1249.5 3389.2 1258.7 3389.4 1268 3389.8 1277.2 3390.4 1286.4 3391.2 1295.6 3392.1 1304.8 3392.9 1314 3393.6 1323.2 3394.1 1332.4 3394.2 1341.7 3394.2 1350.9 3394.2 1360.1 3394.2 1369.3 3394.2 1378.5 3394.2 1387.7 3394.2 1396.9 3394.2 1406.1 3394.2 1415.4 3394.2 1424.6 3394.2 1433.8 3394.2 1443 3394.2 1452.2 3394.2 1461.4 3394.2 1470.6 3394.2 1479.8 3394.2 1489.1 3394.2 1498.3 3394.2 1507.5 3394.2 1516.7 3394.2 1525.9 3394.2 1535.1 3394.2 1544.3 3394.2 1553.6 3394.2 1562.8 3394.1 1572 3394.1 1581.2 3394.1 1590.4 3394.1 1599.6 3394.1 1608.8 3394.1 1618 3394.1 1627.3 3394.1 1636.5 3394.1 1645.7 3394.1 1654.9 3394.1 1664.1 3394.1 1673.3 3394.1 1682.5 3394.1 1691.7 3394.1 1701 3394.1 1710.2 3394.1 1719.4 3394.1 1728.6 3394.1 1737.8 3394.1 1747 3394.1 1756.2 3394.1 1765.4 3394.1 1774.7 3394.1 1783.9 3394.1 1793.1 3394.1 1802.3 3394.1 1811.5 3394.1 1820.7 3394.1 1829.9 3394.1 1839.1 3394.1 1848.4 3394.1 1857.6 3394.1 1866.8 3394.1 1876 3394.1 1885.2 3394 1894.4 3394 1903.6 3394 1912.8 3394 1922.1 3394 1931.3 3394 1940.5 3394 1949.7 3394" fill="none" stroke="#14149a" stroke-width="4.8" stroke-linejoin="round" stroke-linecap="butt"/>
<path d="M291.4 3330L300.6 3290 309.8 3270.4 319 3265.4 328.3 3256.3 337.5 3254.1 346.7 3256.8 355.9 3257.7 365.1 3260.7 374.3 3267.6 383.5 3274.8 392.7 3277.7 402 3287 411.2 3296.2 420.4 3304.1 429.6 3312.2 438.8 3320.5 448 3328.9 457.2 3335.2 466.4 3339.8 475.7 3342.9 484.9 3345.5 494.1 3347.9 503.3 3350.3 512.5 3352.7 521.7 3355.1 530.9 3357.5 540.1 3359.7 549.4 3361.9 558.6 3364 567.8 3366 577 3367.8 586.2 3369.6 595.4 3371.1 604.6 3372.5 613.8 3373.7 623.1 3374.6 632.3 3375.4 641.5 3375.9 650.7 3376.1 659.9 3376.1 669.1 3376 678.3 3375.4 687.5 3374.7 696.8 3373.6 706 3372.2 715.2 3370.5 724.4 3368.5 733.6 3366.2 742.8 3363.8 752 3361.1 761.3 3358.3 770.5 3355.4 779.7 3352.5 788.9 3349.5 798.1 3346.5 807.3 3343.6 816.5 3340.4 825.7 3338.1 835 3336.5 844.2 3335.4 853.4 3334 862.6 3331.1 871.8 3328.3 881 3325.9 890.2 3323.7 899.4 3321.6 908.7 3321.3 917.9 3321 927.1 3320.1 936.3 3319.1 945.5 3319.3 954.7 3321.3 963.9 3322.7 973.1 3323.6 982.4 3324.4 991.6 3325.3 1000.8 3327 1010 3329 1019.2 3332.3 1028.4 3336.2 1037.6 3340.5 1046.8 3345 1056.1 3349.8 1065.3 3354.6 1074.5 3359.3 1083.7 3364 1092.9 3368.3 1102.1 3372.3 1111.3 3375.9 1120.6 3378.9 1129.8 3381.6 1139 3383.8 1148.2 3385.7 1157.4 3387.2 1166.6 3387.8 1175.8 3388.3 1185 3388.6 1194.3 3388.8 1203.5 3388.9 1212.7 3388.9 1221.9 3388.9 1231.1 3388.9 1240.3 3388.9 1249.5 3388.9 1258.7 3388.9 1268 3388.9 1277.2 3388.9 1286.4 3388.9 1295.6 3388.9 1304.8 3388.9 1314 3388.9 1323.2 3388.9 1332.4 3388.9 1341.7 3388.9 1350.9 3388.9 1360.1 3388.9 1369.3 3388.9 1378.5 3388.9 1387.7 3388.9 1396.9 3388.9 1406.1 3388.9 1415.4 3388.9 1424.6 3388.9 1433.8 3388.9 1443 3388.9 1452.2 3388.9 1461.4 3388.9 1470.6 3388.9 1479.8 3388.9 1489.1 3388.9 1498.3 3388.8 1507.5 3388.8 1516.7 3388.8 1525.9 3388.8 1535.1 3388.8 1544.3 3388.8 1553.6 3388.8 1562.8 3388.8 1572 3388.8 1581.2 3388.8 1590.4 3388.8 1599.6 3388.8 1608.8 3388.8 1618 3388.8 1627.3 3388.8 1636.5 3388.8 1645.7 3388.8 1654.9 3388.8 1664.1 3388.8 1673.3 3388.8 1682.5 3388.8 1691.7 3388.8 1701 3388.8 1710.2 3388.8 1719.4 3388.7 1728.6 3388.7 1737.8 3388.7 1747 3388.7 1756.2 3388.7 1765.4 3388.7 1774.7 3388.7 1783.9 3388.7 1793.1 3388.7 1802.3 3388.7 1811.5 3388.7 1820.7 3388.7 1829.9 3388.7 1839.1 3388.6 1848.4 3388.6 1857.6 3388.6 1866.8 3388.6 1876 3388.6 1885.2 3388.6 1894.4 3388.6 1903.6 3388.6 1912.8 3388.6 1922.1 3388.5 1931.3 3388.5 1940.5 3388.5 1949.7 3388.5" fill="none" stroke="#c634c8" stroke-width="4.8" stroke-linejoin="round" stroke-linecap="butt"/>
</g>
<!-- chart b: legend -->
<rect x="1307.6" y="2044.6" width="619.2" height="351.3" fill="#fff" stroke="none"/>
<path d="M1306.1 2395.9 H1928.3" stroke="#707070" stroke-width="3" fill="none"/>
<path d="M1307.6 2397.4 V2044.6 H1926.8 V2397.4" stroke="#0a0a0a" stroke-width="3" fill="none" stroke-linejoin="miter"/>
<g font-family="'Liberation Sans', Arial, Helvetica, sans-serif" font-size="68" fill="#000">
<path d="M1314.5 2096.2 H1474.3" stroke="#8c8c8c" stroke-width="2.4" fill="none"/>
<path d="M1314.5 2093.2 H1474.3" stroke="#161616" stroke-width="4.2" fill="none"/>
<text x="1490.5" y="2116.4" textLength="428" lengthAdjust="spacingAndGlyphs">Aminophylline</text>
<path d="M1314.5 2179.6 H1474.3" stroke="#be1e1e" stroke-width="5.5" fill="none"/>
<text x="1490.5" y="2201.1" textLength="317.6" lengthAdjust="spacingAndGlyphs">AM100mg</text>
<path d="M1314.5 2264.7 H1474.3" stroke="#14149a" stroke-width="5.5" fill="none"/>
<text x="1490.5" y="2286.6" textLength="317.6" lengthAdjust="spacingAndGlyphs">AM200mg</text>
<path d="M1314.5 2349.3 H1474.3" stroke="#c634c8" stroke-width="5.5" fill="none"/>
<text x="1490.5" y="2371.8" textLength="142.5" lengthAdjust="spacingAndGlyphs">EDA</text>
</g>
<text x="1073.3" y="3902.7" text-anchor="middle" font-family="'Liberation Serif', 'Times New Roman', serif" font-size="85" fill="#000">(<tspan font-weight="bold">b</tspan>)</text>
</svg>
</body>
</html>
